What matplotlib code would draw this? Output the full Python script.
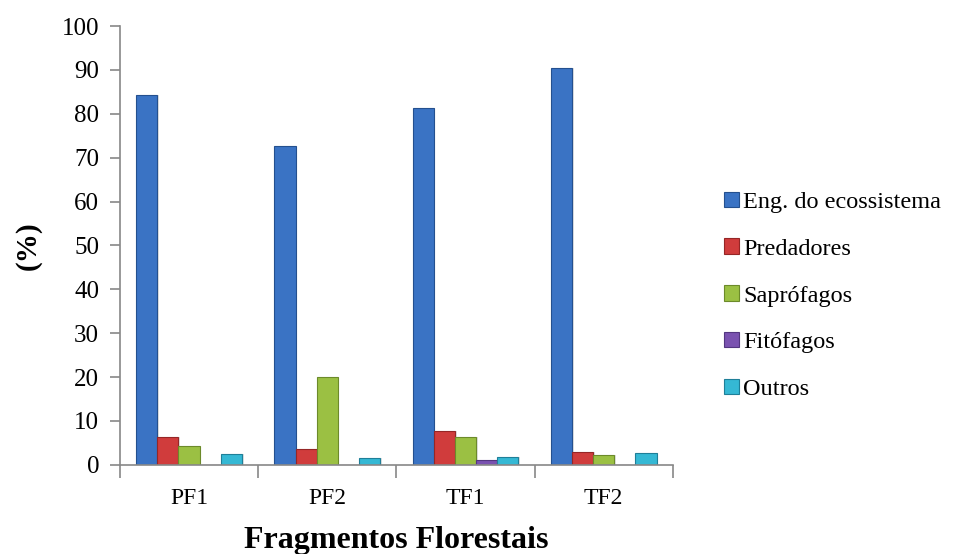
import numpy as np
import matplotlib.pyplot as plt

plt.rcParams['font.family'] = ['Liberation Serif', 'DejaVu Serif']

# values (%)
fragmentos = ["PF1", "PF2", "TF1", "TF2"]
grupos = ["Eng. do ecossistema", "Predadores", "Saprófagos", "Fitófagos", "Outros"]
eng = [84.3, 72.7, 81.3, 90.4]
predadores = [6.4, 3.6, 7.6, 2.9]
saprofagos = [4.2, 20.0, 6.4, 2.3]
fitofagos = [0.0, 0.0, 1.1, 0.0]
outros = [2.4, 1.6, 1.7, 2.7]

series = [eng, predadores, saprofagos, fitofagos, outros]
cores = ["#3a73c4", "#d03c3c", "#9bc043", "#7a52b0", "#35b8d4"]
bordas = ["#24508f", "#952626", "#6c8a2a", "#533680", "#1f7f98"]

fig = plt.figure(figsize=(9.75, 5.54), dpi=100)
ax = fig.add_axes([0.123, 0.161, 0.567, 0.792])

x = np.arange(len(fragmentos))
w = 0.153
for i, (vals, nome) in enumerate(zip(series, grupos)):
    pos = x + (i - 2) * w
    # soft shadow
    ax.bar(pos + 0.012, vals, w, color="#000000", alpha=0.12, zorder=1, linewidth=0)
    ax.bar(pos, vals, w, color=cores[i], edgecolor=bordas[i], linewidth=0.8,
           label=nome, zorder=2)

ax.set_xlim(-0.5, len(fragmentos) - 0.5)
ax.set_ylim(0, 100)
ax.set_yticks(np.arange(0, 101, 10))
ax.set_xticks(x)
ax.set_xticklabels(fragmentos)
ax.set_xticks(np.arange(-0.5, len(fragmentos), 1), minor=True)
ax.tick_params(axis='x', which='major', length=0, pad=17, labelsize=17)
ax.tick_params(axis='x', which='minor', length=9, color="#888888", width=1.2)
ax.tick_params(axis='y', length=7, color="#888888", width=1.2, labelsize=18, pad=8)

for s in ["top", "right"]:
    ax.spines[s].set_visible(False)
for s in ["left", "bottom"]:
    ax.spines[s].set_color("#888888")
    ax.spines[s].set_linewidth(1.2)

ax.set_xlabel("Fragmentos Florestais", fontsize=23, fontweight="bold", labelpad=12)
ax.set_ylabel("(%)", fontsize=21, fontweight="bold", labelpad=14)

leg = ax.legend(loc="center left", bbox_to_anchor=(1.075, 0.385), frameon=False,
                fontsize=17.5, handlelength=0.6, handleheight=0.6, handletextpad=0.2,
                labelspacing=1.05, borderaxespad=0)

fig.savefig("out.png", dpi=100)
